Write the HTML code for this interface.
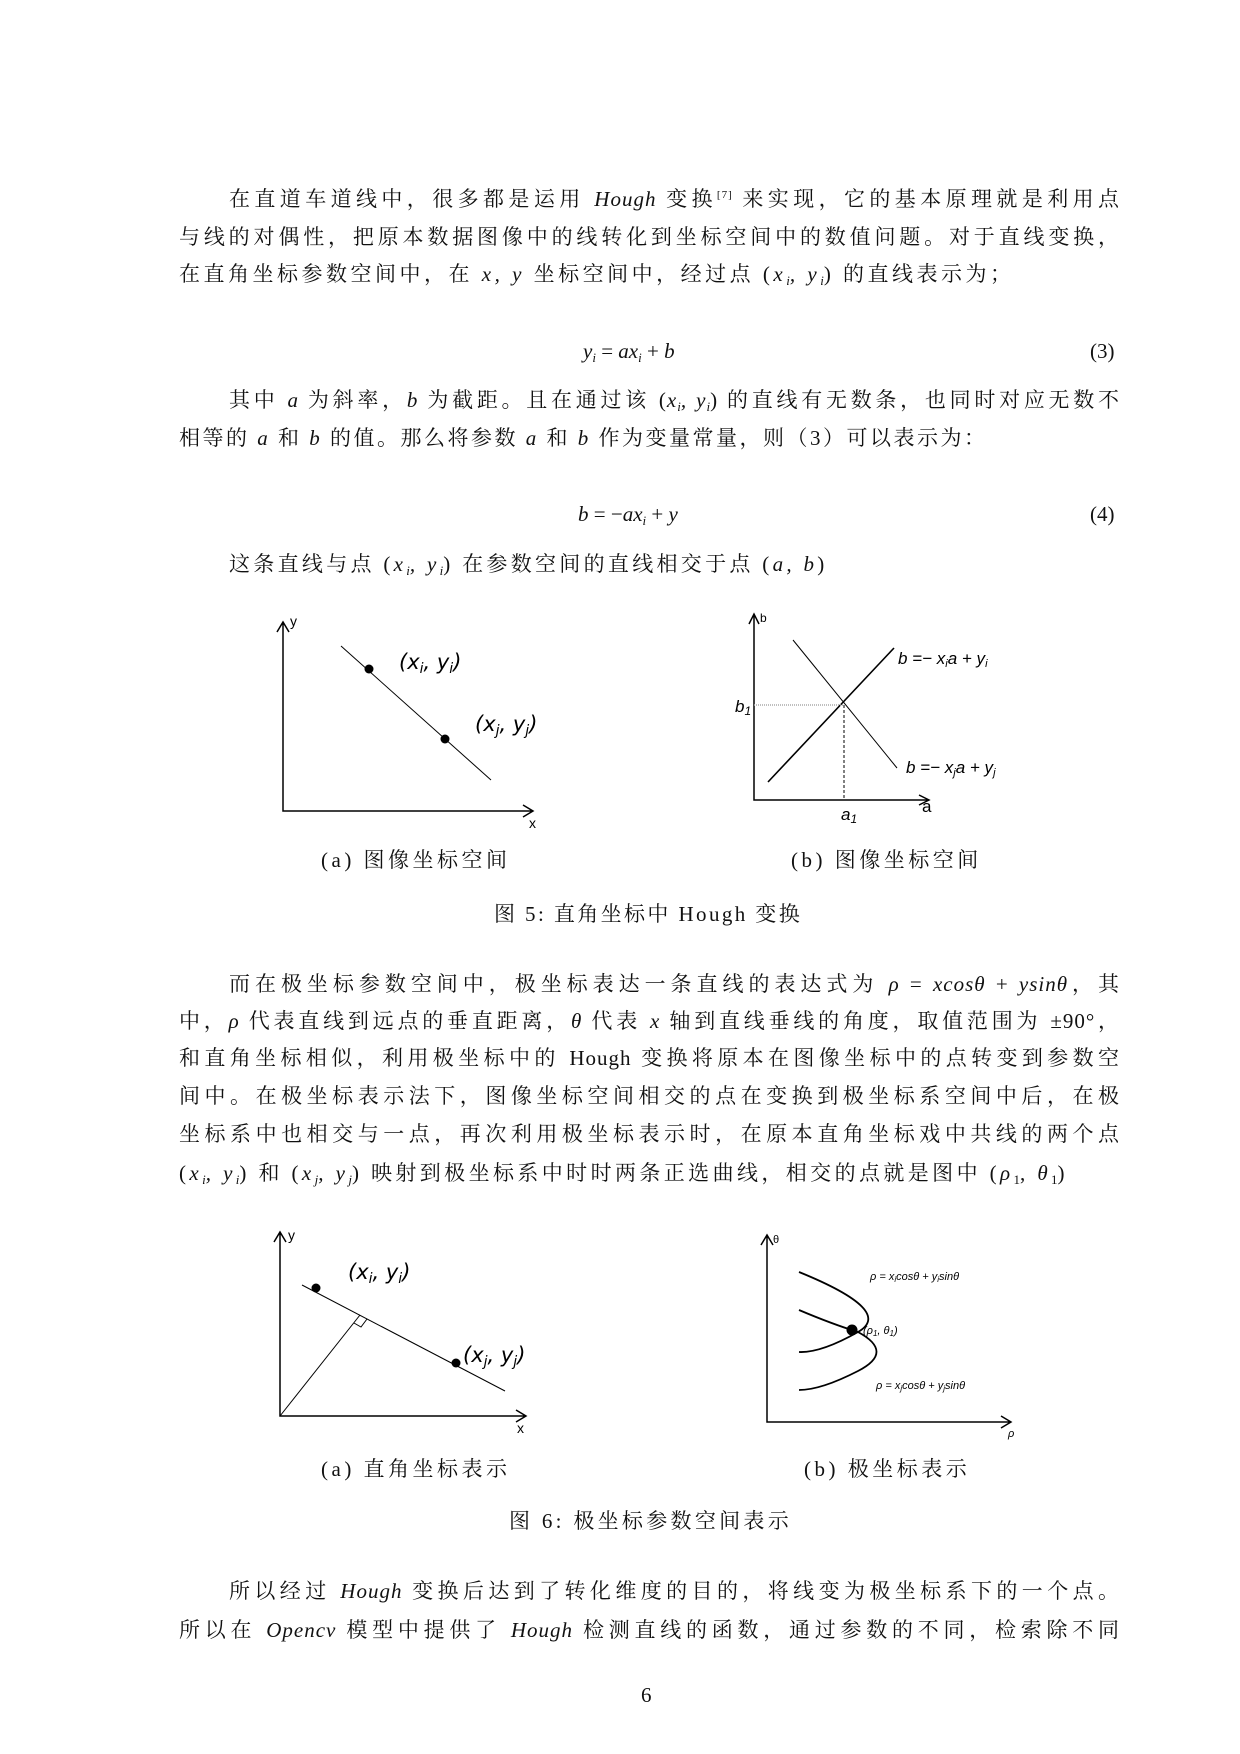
<!DOCTYPE html>
<html><head><meta charset="utf-8"><style>
body{margin:0;background:#fff}
#p{position:relative;width:1240px;height:1754px;background:#fff;font-family:"Liberation Serif","Noto Serif CJK SC","Noto Sans CJK SC",serif;color:#111;font-size:21px}
.l{position:absolute;left:179px;width:941px;height:30px;line-height:30px;white-space:nowrap;text-align:justify;text-align-last:justify;letter-spacing:1px}
.i{left:229px;width:891px}
.n{text-align-last:left;letter-spacing:3.3px}
i{font-style:italic}
.c{position:absolute;white-space:nowrap;line-height:30px;font-size:21px}
.cap{letter-spacing:3.5px}
sub{font-size:13px;vertical-align:-4px;line-height:0;letter-spacing:0}
sup{font-size:11px;vertical-align:8px;line-height:0}
svg{position:absolute;left:0;top:0}
svg text{font-family:"Liberation Sans",sans-serif}
</style></head><body><div id="p">
<div class="l i" style="top:184px">在直道车道线中，很多都是运用 <i>Hough</i> 变换<sup>[7]</sup> 来实现，它的基本原理就是利用点</div>
<div class="l" style="top:222px">与线的对偶性，把原本数据图像中的线转化到坐标空间中的数值问题。对于直线变换，</div>
<div class="l n" style="top:259px;letter-spacing:3.5px">在直角坐标参数空间中，在 <i>x, y</i> 坐标空间中，经过点 (<i>x<sub>i</sub>, y<sub>i</sub></i>) 的直线表示为；</div>
<div class="c" style="left:583px;top:336px"><i>y<sub>i</sub></i> = <i>ax<sub>i</sub></i> + <i>b</i></div>
<div class="c" style="left:1090px;top:336px">(3)</div>
<div class="l i" style="top:385px">其中 <i>a</i> 为斜率，<i>b</i> 为截距。且在通过该 (<i>x<sub>i</sub>, y<sub>i</sub></i>) 的直线有无数条，也同时对应无数不</div>
<div class="l n" style="top:423px;letter-spacing:2.5px">相等的 <i>a</i> 和 <i>b</i> 的值。那么将参数 <i>a</i> 和 <i>b</i> 作为变量常量，则（3）可以表示为：</div>
<div class="c" style="left:578px;top:499px"><i>b</i> = −<i>ax<sub>i</sub></i> + <i>y</i></div>
<div class="c" style="left:1090px;top:499px">(4)</div>
<div class="l i n" style="top:549px">这条直线与点 (<i>x<sub>i</sub>, y<sub>i</sub></i>) 在参数空间的直线相交于点 (<i>a, b</i>)</div>

<div class="c cap" style="left:321px;top:845px">(a) 图像坐标空间</div>
<div class="c cap" style="left:791px;top:845px">(b) 图像坐标空间</div>
<div class="c" style="left:494px;top:899px;letter-spacing:2.4px">图 5: 直角坐标中 Hough 变换</div>

<div class="l i" style="top:969px">而在极坐标参数空间中，极坐标表达一条直线的表达式为 <i>ρ</i> = <i>xcosθ</i> + <i>ysinθ</i>，其</div>
<div class="l" style="top:1006px">中，<i>ρ</i> 代表直线到远点的垂直距离，<i>θ</i> 代表 <i>x</i> 轴到直线垂线的角度，取值范围为 ±90°，</div>
<div class="l" style="top:1043px">和直角坐标相似，利用极坐标中的 Hough 变换将原本在图像坐标中的点转变到参数空</div>
<div class="l" style="top:1081px">间中。在极坐标表示法下，图像坐标空间相交的点在变换到极坐标系空间中后，在极</div>
<div class="l" style="top:1119px">坐标系中也相交与一点，再次利用极坐标表示时，在原本直角坐标戏中共线的两个点</div>
<div class="l n" style="top:1158px;letter-spacing:3.4px">(<i>x<sub>i</sub>, y<sub>i</sub></i>) 和 (<i>x<sub>j</sub>, y<sub>j</sub></i>) 映射到极坐标系中时时两条正选曲线，相交的点就是图中 (<i>ρ</i><sub>1</sub>, <i>θ</i><sub>1</sub>)</div>

<div class="c cap" style="left:321px;top:1454px">(a) 直角坐标表示</div>
<div class="c cap" style="left:804px;top:1454px">(b) 极坐标表示</div>
<div class="c" style="left:509px;top:1506px;letter-spacing:3.3px">图 6: 极坐标参数空间表示</div>

<div class="l i" style="top:1576px">所以经过 <i>Hough</i> 变换后达到了转化维度的目的，将线变为极坐标系下的一个点。</div>
<div class="l" style="top:1615px">所以在 <i>Opencv</i> 模型中提供了 <i>Hough</i> 检测直线的函数，通过参数的不同，检索除不同</div>
<div class="c" style="left:641px;top:1680px">6</div>

<svg width="1240" height="1754" viewBox="0 0 1240 1754">
<g stroke="#000" fill="none" stroke-width="1.5">
<path d="M283 622V811H533M277 632L283 622L289 632M523 805L533 811L523 817"/>
<path d="M341 646L491 780" stroke-width="1"/>
<path d="M754 614V800H929M749 624L754 614L759 624M919 795L929 800L919 805"/>
<path d="M793 640L897 768" stroke-width="1"/>
<path d="M768 782L894 648" stroke-width="1.6"/>
<path d="M754 705H844" stroke="#aaa" stroke-dasharray="1 1"/>
<path d="M844 705V800" stroke-width="1" stroke-dasharray="3 2"/>
<path d="M280 1232V1416H526M274 1242L280 1232L286 1242M516 1410L526 1416L516 1422"/>
<path d="M302 1285L505 1391" stroke-width="1"/>
<path d="M280 1416L360 1315" stroke-width="1"/>
<path d="M354 1323L361 1327L367 1319" stroke-width="1"/>
<path d="M767 1235V1422H1011M761 1245L767 1235L773 1245M1001 1416L1011 1422L1001 1428"/>
<path d="M799 1272Q895 1311 858 1332T799 1352" stroke-width="1.8"/>
<path d="M799 1310Q832 1324 858 1332Q895 1352 858 1371T799 1390" stroke-width="1.8"/>
</g>
<g fill="#000">
<circle cx="369" cy="669" r="4.5"/><circle cx="445" cy="739" r="4.5"/>
<circle cx="316" cy="1288" r="4.5"/><circle cx="456" cy="1363" r="4.5"/>
<circle cx="852" cy="1330" r="5.5"/>
<text x="290" y="626" font-size="14">y</text><text x="529" y="828" font-size="14">x</text>
<text x="760" y="622" font-size="12">b</text><text x="922" y="812" font-size="17">a</text>
<text x="288" y="1240" font-size="14">y</text><text x="517" y="1433" font-size="14">x</text>
<text x="773" y="1243" font-size="11">θ</text><text x="1008" y="1437" font-size="11" font-style="italic">ρ</text>
</g>
<g fill="#000" font-style="italic" style="font-family:'Liberation Serif',serif">
<text x="399" y="669" font-size="21" style="font-family:'DejaVu Sans',sans-serif">(x<tspan font-size="14" dy="4">i</tspan><tspan dy="-4">, y</tspan><tspan font-size="14" dy="4">i</tspan><tspan dy="-4">)</tspan></text>
<text x="475" y="731" font-size="21" style="font-family:'DejaVu Sans',sans-serif">(x<tspan font-size="14" dy="4">j</tspan><tspan dy="-4">, y</tspan><tspan font-size="14" dy="4">j</tspan><tspan dy="-4">)</tspan></text>
<text x="348" y="1279" font-size="21" style="font-family:'DejaVu Sans',sans-serif">(x<tspan font-size="14" dy="4">i</tspan><tspan dy="-4">, y</tspan><tspan font-size="14" dy="4">i</tspan><tspan dy="-4">)</tspan></text>
<text x="463" y="1362" font-size="21" style="font-family:'DejaVu Sans',sans-serif">(x<tspan font-size="14" dy="4">j</tspan><tspan dy="-4">, y</tspan><tspan font-size="14" dy="4">j</tspan><tspan dy="-4">)</tspan></text>
<text x="898" y="664" font-size="17">b =− x<tspan font-size="11" dy="3">i</tspan><tspan dy="-3">a + y</tspan><tspan font-size="11" dy="3">i</tspan></text>
<text x="906" y="773" font-size="17">b =− x<tspan font-size="11" dy="3">j</tspan><tspan dy="-3">a + y</tspan><tspan font-size="11" dy="3">j</tspan></text>
<text x="735" y="712" font-size="17">b<tspan font-size="12" dy="3">1</tspan></text>
<text x="841" y="820" font-size="17">a<tspan font-size="12" dy="3">1</tspan></text>
<text x="870" y="1280" font-size="11">ρ = x<tspan font-size="8" dy="2">i</tspan><tspan dy="-2">cosθ  +  y</tspan><tspan font-size="8" dy="2">i</tspan><tspan dy="-2">sinθ</tspan></text>
<text x="876" y="1389" font-size="11">ρ = x<tspan font-size="8" dy="2">j</tspan><tspan dy="-2">cosθ  +  y</tspan><tspan font-size="8" dy="2">j</tspan><tspan dy="-2">sinθ</tspan></text>
<text x="863" y="1334" font-size="11">(ρ<tspan font-size="8" dy="2">1</tspan><tspan dy="-2">, θ</tspan><tspan font-size="8" dy="2">1</tspan><tspan dy="-2">)</tspan></text>
</g>
</svg>
</div></body></html>
